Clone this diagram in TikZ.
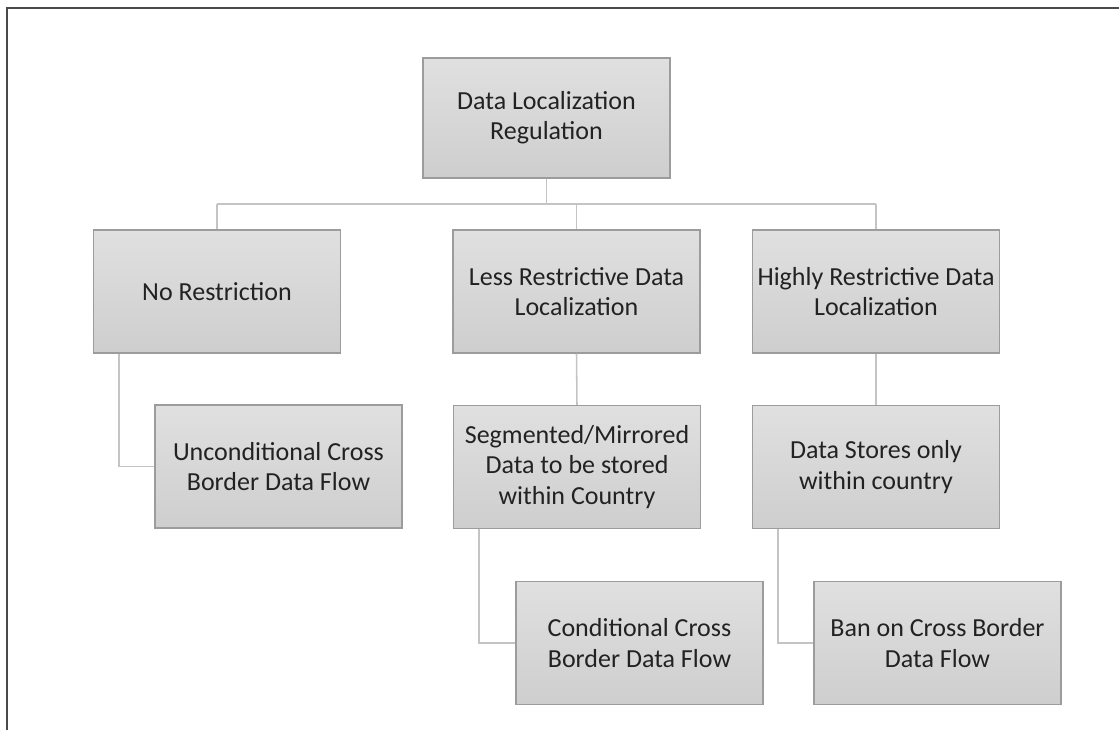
\documentclass[tikz,border=0pt]{standalone}
\usepackage{fontspec}
\setmainfont{Carlito}
\usetikzlibrary{positioning, calc}
\definecolor{cframe}{HTML}{4A4A4A}
\definecolor{cedge}{HTML}{9C9C9C}
\definecolor{clink}{HTML}{C4C4C4}
\definecolor{ctop}{HTML}{E0E0E0}
\definecolor{cbot}{HTML}{CECECE}
\definecolor{ctext}{HTML}{222222}
\tikzset{
  every picture/.style={font=\fontsize{18.5}{21.5}\selectfont},
  box/.style={draw=cedge, top color=ctop, bottom color=cbot, line width=0.9pt,
    align=center, text=ctext, minimum width=6.175cm, minimum height=3.075cm, inner sep=2pt},
  link/.style={draw=clink, line width=1.1pt},
  frame/.style={draw=cframe, line width=1.5pt},
}
\begin{document}
\begin{tikzpicture}[x=0.025cm, y=-0.025cm]
  \useasboundingbox (0,0) rectangle (1119,730);
  % outer frame, open at right and bottom
  \draw[frame] (7,730) -- (7,8) -- (1119,8);
  % top level
  \node[box, minimum height=3.0cm] (root) at (546.5,118) {Data Localization\\Regulation};
  % second level
  \node[box] (nores) at (217,291.5) {No Restriction};
  \node[box] (less) at (576.5,291.5) {Less Restrictive Data\\Localization};
  \node[box] (high) at (876,291.5) {Highly Restrictive Data\\Localization};
  % third level
  \node[box] (uncond) at (278.5,466.5) {Unconditional Cross\\Border Data Flow};
  \node[box] (segm) at (577,467) {Segmented/Mirrored\\Data to be stored\\within Country};
  \node[box] (stores) at (876,467) {Data Stores only\\within country};
  % fourth level
  \node[box] (cond) at (639.5,643) {Conditional Cross\\Border Data Flow};
  \node[box] (ban) at (937.5,643) {Ban on Cross Border\\Data Flow};
  % bus under the root
  \coordinate (bus) at (546.5,204);
  \draw[link] (root.south) -- (bus);
  \draw[link] (nores.north |- bus) -- (high.north |- bus);
  \foreach \n in {nores, less, high}
    \draw[link] (\n.north) -- (\n.north |- bus);
  % straight and elbow links
  \draw[link] (less.south) -- (segm.north);
  \draw[link] (high.south) -- (stores.north);
  \draw[link] ([xshift=0.65cm]nores.south west) |- (uncond.west);
  \draw[link] ([xshift=0.65cm]segm.south west) |- (cond.west);
  \draw[link] ([xshift=0.65cm]stores.south west) |- (ban.west);
\end{tikzpicture}
\end{document}
